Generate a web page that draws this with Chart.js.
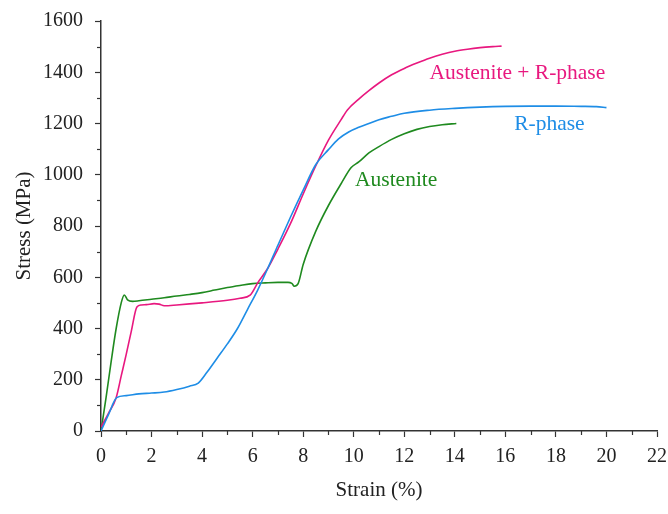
<!DOCTYPE html>
<html>
<head>
<meta charset="utf-8">
<script src="https://cdn.jsdelivr.net/npm/chart.js@4/dist/chart.umd.min.js"></script>
<style>
html,body{margin:0;padding:0;background:#fff;}
#wrap{width:668px;height:514px;}
</style>
</head>
<body>
<div id="wrap"><canvas id="c" width="668" height="514"></canvas></div>
<script>
// ---- data (strain %, stress MPa) ----
const xTicks = [0,2,4,6,8,10,12,14,16,18,20,22];
const yTicks = [0,200,400,600,800,1000,1200,1400,1600];

const austeniteStrain = [0,0.2,0.4,0.6,0.8,0.92,1.05,1.25,1.5,2.0,2.5,3.0,3.5,4.0,4.5,5.0,5.5,6.0,6.5,7.0,7.4,7.55,7.65,7.8,8.0,8.5,9.0,9.5,9.9,10.2,10.6,11.0,11.5,12.0,12.5,13.0,13.5,14.06];
const austeniteStress = [0,130,270,400,500,531,512,506,508,514,520,527,533,540,550,560,568,575,578,580,580,576,565,575,650,780,880,965,1028,1050,1085,1110,1138,1160,1177,1188,1195,1200];

const mixStrain = [0,0.3,0.6,0.8,1.0,1.2,1.42,1.6,1.8,2.1,2.3,2.5,3.0,4.0,5.0,5.5,5.9,6.2,6.6,7.0,7.5,8.0,8.5,9.0,9.5,9.75,10.2,10.6,11.0,11.5,12.0,12.5,13.0,13.5,14.0,14.5,15.0,15.5,15.85];
const mixStress = [15,70,130,215,300,390,484,492,493,497,495,489,492,500,510,518,530,578,635,710,810,925,1035,1135,1215,1253,1295,1328,1358,1390,1415,1436,1455,1470,1482,1490,1496,1500,1502];

const rStrain = [0,0.3,0.62,1.0,1.5,2.0,2.5,3.0,3.5,3.85,4.2,4.6,5.0,5.4,5.8,6.2,6.6,7.0,7.5,8.0,8.5,9.0,9.4,9.8,10.2,10.6,11.0,11.5,12.0,13.0,14.0,15.0,16.0,17.0,18.0,19.0,19.6,20.0];
const rStress = [0,65,130,138,145,148,152,162,175,187,230,285,340,400,475,550,635,725,835,940,1040,1098,1140,1167,1185,1200,1215,1228,1240,1252,1259,1264,1267,1268,1268,1267,1266,1262];

const seriesNames = ['Austenite + R-phase','R-phase','Austenite'];
const seriesColors = ['#e8187f','#1e8de6','#1f8a1f'];
// label anchors in data units (strain, stress) for the in-plot captions
const labelAnchors = [[13.0,1397],[16.35,1198],[10.05,980]];

function pts(xs, ys){ return xs.map((x,i)=>({x:x,y:ys[i]})); }

const FONT = '"Liberation Serif", "DejaVu Serif", serif';

const minorTicks = {
  id:'minorTicks',
  afterDraw(chart){
    const {ctx, scales:{x,y}} = chart;
    ctx.save();
    ctx.strokeStyle = '#333';
    ctx.lineWidth = 1.2;
    for(let v=1; v<22; v+=2){
      const px = Math.round(x.getPixelForValue(v))+0.5;
      ctx.beginPath(); ctx.moveTo(px, y.bottom); ctx.lineTo(px, y.bottom+4); ctx.stroke();
    }
    for(let v=100; v<1600; v+=200){
      const py = Math.round(y.getPixelForValue(v))+0.5;
      ctx.beginPath(); ctx.moveTo(x.left-4, py); ctx.lineTo(x.left, py); ctx.stroke();
    }
    // captions
    ctx.font = '21.5px ' + FONT;
    ctx.textBaseline = 'middle';
    ctx.textAlign = 'left';
    labelAnchors.forEach((a,i)=>{
      ctx.fillStyle = seriesColors[i];
      ctx.fillText(seriesNames[i], x.getPixelForValue(a[0]), y.getPixelForValue(a[1]));
    });
    ctx.restore();
  }
};

const ds = (label, data, color) => ({
  label, data, borderColor: color, backgroundColor: color,
  borderWidth: 1.6, pointRadius: 0, showLine: true,
  cubicInterpolationMode: 'monotone', fill: false
});

new Chart(document.getElementById('c'), {
  type: 'scatter',
  data: {
    datasets: [
      ds(seriesNames[1], pts(rStrain, rStress), seriesColors[1]),
      ds(seriesNames[0], pts(mixStrain, mixStress), seriesColors[0]),
      ds(seriesNames[2], pts(austeniteStrain, austeniteStress), seriesColors[2])
    ]
  },
  options: {
    responsive: false,
    animation: false,
    layout: { padding: { top: 21, right: 11, left: 0, bottom: 0 } },
    plugins: { legend: { display: false }, tooltip: { enabled: false } },
    scales: {
      x: {
        type: 'linear', min: 0, max: 22,
        afterBuildTicks(s){ s.ticks = xTicks.map(v=>({value:v})); },
        afterFit(s){ s.height = 83; s.paddingLeft = 0; s.paddingRight = 0; },
        grid: { display: true, drawOnChartArea: false, drawTicks: true, tickLength: 6, tickWidth: 1.2, tickColor: '#333' },
        border: { display: true, color: '#333', width: 1.5 },
        ticks: { color: '#222', font: { family: FONT, size: 20 }, padding: 8, maxRotation: 0, callback: v => String(v) },
        title: { display: true, text: 'Strain (%)', color: '#222', font: { family: FONT, size: 21 }, padding: { top: 0, bottom: 11 } }
      },
      y: {
        type: 'linear', min: 0, max: 1600,
        afterBuildTicks(s){ s.ticks = yTicks.map(v=>({value:v})); },
        afterFit(s){ s.width = 101; s.paddingTop = 0; s.paddingBottom = 0; },
        grid: { display: true, drawOnChartArea: false, drawTicks: true, tickLength: 6, tickWidth: 1.2, tickColor: '#333' },
        border: { display: true, color: '#333', width: 1.5 },
        ticks: { color: '#222', font: { family: FONT, size: 20 }, padding: 12, callback: v => String(v) },
        title: { display: true, text: 'Stress (MPa)', color: '#222', font: { family: FONT, size: 21 }, padding: { top: 12, bottom: 0 } }
      }
    }
  },
  plugins: [minorTicks]
});
</script>
</body>
</html>
